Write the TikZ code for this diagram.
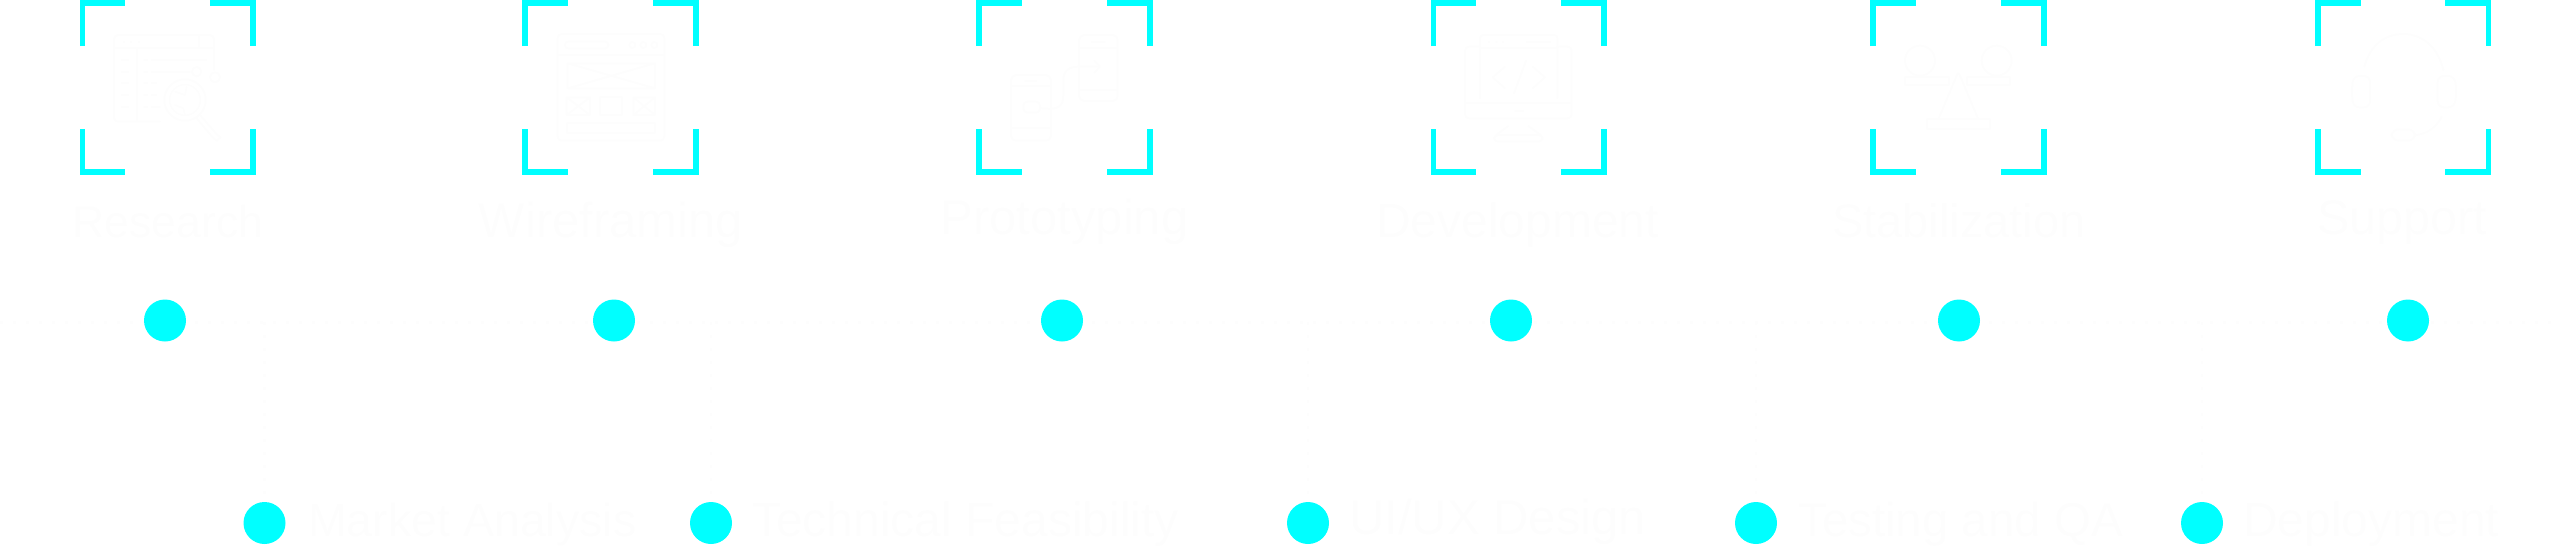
\documentclass[tikz,border=0pt]{standalone}
\usepackage{fontspec}
\setmainfont{Liberation Sans}
\definecolor{faint}{HTML}{FDFDFD}
\definecolor{accent}{HTML}{00FFFF}
\tikzset{
  x=1pt,y=-1pt,
  bracket/.style={draw=accent,line width=5.6pt,miter limit=10,line cap=butt},
  marker/.style={circle,fill=accent,draw=none,minimum size=42pt,inner sep=0pt},
  title/.style={text=faint,font=\fontsize{#1}{50}\selectfont,inner sep=0pt,anchor=base},
  sublabel/.style={text=faint,font=\fontsize{#1}{50}\selectfont,inner sep=0pt,anchor=base west},
  dotline/.style={draw=faint,line width=2.5pt,dash pattern=on 3pt off 10pt},
  glyph/.style={draw=faint,line width=2pt,line cap=round,line join=round},
  thin glyph/.style={draw=faint,line width=1.6pt,line cap=round,line join=round},
  icon/.style={shift={(#1,20)},x=0.3333pt,y=-0.3333pt}
}
\newcommand{\framecorners}[2]{% left, right
  \draw[bracket] (#1,46) -- (#1,2.8) -- (#1+43,2.8);
  \draw[bracket] (#2-43,2.8) -- (#2,2.8) -- (#2,46);
  \draw[bracket] (#1,129) -- (#1,172.2) -- (#1+43,172.2);
  \draw[bracket] (#2-43,172.2) -- (#2,172.2) -- (#2,129);
}
\begin{document}
\begin{tikzpicture}
\useasboundingbox (0,0) rectangle (2560,546);
\coordinate (lineL) at (0,322.3);
\coordinate (lineR) at (2560,322.3);
\draw[dotline] (lineL) -- (lineR);
\foreach \n/\x in {a/264.5,b/711,c/1308,d/1756,e/2202}{
  \coordinate (j\n) at (\x,322.3);
  \node[marker] (bot\n) at (\x,523) {};
  \draw[dotline] (j\n) -- (bot\n);
}
\foreach \n/\x in {a/165,b/614,c/1062,d/1511,e/1959,f/2408}{
  \node[marker] (top\n) at (\x,320.5) {};
}
\framecorners{82.4}{253.2}
\framecorners{525.2}{696.2}
\framecorners{978.8}{1150.2}
\framecorners{1433.4}{1604.2}
\framecorners{1872.8}{2044.2}
\framecorners{2317.8}{2488.4}
% titles
\node[title=44.5] (t1) at (168,237) {Research};
\node[title=49] (t2) at (611,237) {Wireframing};
\node[title=49] (t3) at (1064.5,234) {Prototyping};
\node[title=48] (t4) at (1517.5,237) {Development};
\node[title=47] (t5) at (1959,237) {Stabilization};
\node[title=48.5] (t6) at (2402.5,234) {Support};
% sub labels
\node[sublabel=46.5] (s1) at (308,536) {Market Analysis};
\node[sublabel=48] (s2) at (752,536) {Technical Feasibility};
\node[sublabel=49] (s3) at (1349,534.5) {UI/UX Design};
\node[sublabel=47.5] (s4) at (1798,536) {Testing and QA};
\node[sublabel=48] (s5) at (2243,536) {Deployment};
% research icon
\begin{scope}[icon=100]
  \draw[glyph,rounded corners=4pt] (180,305) -- (42,305) -- (42,45) -- (342,45) -- (342,150);
  \draw[glyph] (42,85) -- (342,85) (298,45) -- (298,85) (110,85) -- (110,305);
  \foreach \y/\e in {120/320,155/270,190/170,225/170,260/180}{
    \draw[glyph] (65,\y) -- (85,\y) (132,\y) -- (142,\y) (155,\y) -- (\e,\y);
  }
  \foreach \x in {70,92,115}{\draw[glyph] (\x,67) -- (\x+3,67);}
  \draw[glyph] (255,240) circle[radius=62];
  \draw[thin glyph] (255,240) circle[radius=46];
  \draw[thin glyph] (225,215) -- (255,225) -- (260,200) (225,255) -- (250,265) -- (255,285);
  \draw[glyph] (300,285) -- (352,345) -- (362,352) -- (350,362) -- (338,352) -- (290,295);
  \draw[glyph] (345,172) circle[radius=15];
  \draw[glyph] (290,155) circle[radius=14];
\end{scope}
% wireframe icon
\begin{scope}[icon=545]
  \draw[glyph,rounded corners=4pt] (38,42) rectangle (358,362);
  \draw[glyph] (38,105) -- (358,105);
  \draw[glyph,rounded corners=3pt] (60,65) rectangle (190,85);
  \foreach \x in {262,295,328}{\draw[glyph] (\x,75) circle[radius=9];}
  \draw[glyph] (68,130) rectangle (330,205) (68,130) -- (330,205) (68,205) -- (330,130);
  \draw[glyph] (65,232) rectangle (135,285) (65,232) -- (135,285) (65,285) -- (135,232);
  \draw[glyph] (165,232) rectangle (232,285);
  \draw[glyph] (265,232) rectangle (330,285) (265,232) -- (330,285) (265,285) -- (330,232);
  \draw[glyph] (65,310) rectangle (330,338);
\end{scope}
% prototyping icon
\begin{scope}[icon=995]
  \draw[glyph,rounded corners=5pt] (48,165) rectangle (168,362);
  \draw[glyph] (48,198) -- (168,198) (48,325) -- (168,325) (90,182) -- (125,182);
  \draw[glyph,rounded corners=5pt] (252,45) rectangle (368,243);
  \draw[glyph] (252,85) -- (368,85) (252,210) -- (368,210) (290,65) -- (330,65);
  \draw[glyph,rounded corners=4pt] (85,278) -- (85,245) -- (135,245) -- (135,278) -- cycle;
  \draw[glyph] (135,264) .. controls (190,272) and (205,260) .. (205,225) -- (205,180) .. controls (205,150) and (225,140) .. (250,140) -- (312,140);
  \draw[glyph] (298,122) -- (315,140) -- (298,158);
\end{scope}
% development icon
\begin{scope}[icon=1450]
  \draw[glyph,rounded corners=4pt] (90,80) -- (45,80) -- (45,295) -- (365,295) -- (365,80) -- (322,80);
  \draw[glyph,rounded corners=3pt] (90,235) -- (90,45) -- (322,45) -- (322,235);
  \draw[glyph] (90,85) -- (322,85) (45,248) -- (365,248);
  \foreach \x in {115,138,158}{\draw[glyph] (\x,67) -- (\x+3,67);}
  \draw[glyph] (230,67) -- (302,67) (195,272) -- (220,272);
  \draw[glyph] (165,140) -- (128,172) -- (165,205) (228,122) -- (192,220) (248,140) -- (285,172) -- (248,205);
  \draw[glyph] (175,318) -- (138,345) (235,318) -- (272,345);
  \draw[glyph,rounded corners=4pt] (132,345) rectangle (278,365);
\end{scope}
% stabilization icon
\begin{scope}[icon=1890]
  \draw[glyph] (90,122) circle[radius=45] (320,122) circle[radius=45];
  \draw[glyph] (45,170) rectangle (178,195) (232,170) rectangle (360,195);
  \draw[glyph,rounded corners=3pt] (145,298) -- (205,155) -- (265,298);
  \draw[glyph] (112,298) rectangle (300,328);
\end{scope}
% support icon
\begin{scope}[icon=2335]
  \draw[glyph] (88,140) .. controls (105,75) and (150,42) .. (205,42) .. controls (265,42) and (310,85) .. (325,150);
  \draw[glyph,rounded corners=6pt] (105,168) -- (55,168) -- (50,215) -- (55,262) -- (105,262) -- cycle;
  \draw[glyph,rounded corners=6pt] (308,168) -- (358,168) -- (365,215) -- (358,262) -- (308,262) -- cycle;
  \draw[glyph] (320,290) .. controls (305,320) and (280,340) .. (245,345);
  \draw[glyph,rounded corners=7pt] (170,328) rectangle (240,362);
\end{scope}
\end{tikzpicture}
\end{document}
